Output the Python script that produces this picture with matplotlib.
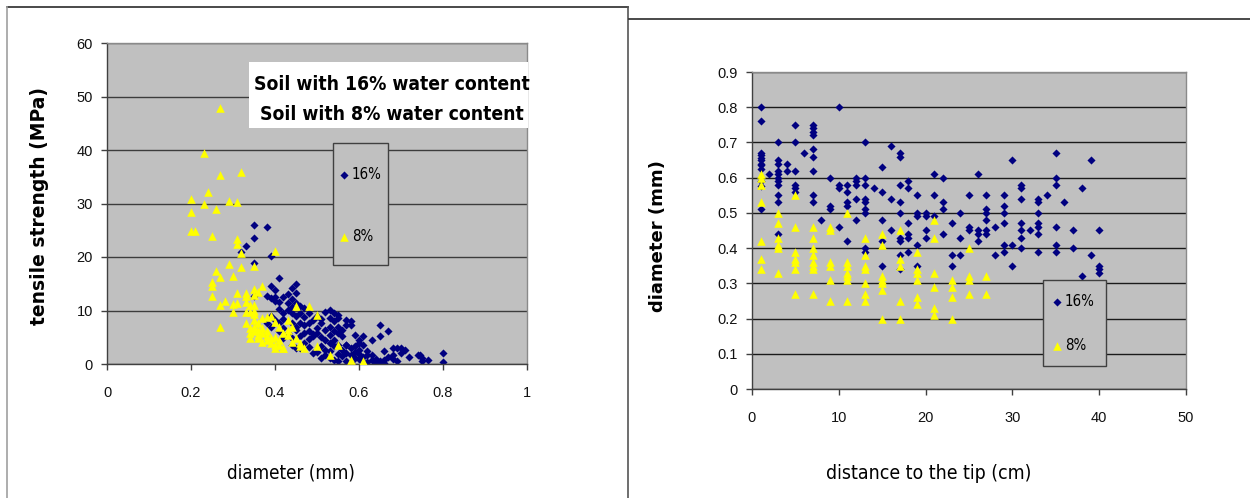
import os
import matplotlib
matplotlib.use("Agg")
import matplotlib.pyplot as plt
from matplotlib.lines import Line2D
from matplotlib.patches import Rectangle
from matplotlib.font_manager import FontProperties, fontManager, weight_dict

# ---------------- data: left chart (diameter vs tensile strength) ----------------
diam16 = [0.35, 0.38, 0.35, 0.33, 0.32, 0.39, 0.35, 0.41, 0.39, 0.40, 0.45, 0.44, 0.45, 0.38, 0.39, 0.40,
          0.42, 0.43, 0.44, 0.45, 0.35, 0.41, 0.42, 0.43, 0.39, 0.40, 0.44, 0.45, 0.46, 0.47, 0.48, 0.41,
          0.42, 0.44, 0.45, 0.46, 0.47, 0.48, 0.49, 0.50, 0.51, 0.52, 0.53, 0.54, 0.55, 0.53, 0.54, 0.55,
          0.57, 0.58, 0.57, 0.58, 0.55, 0.56, 0.53, 0.54, 0.59, 0.60, 0.65, 0.67, 0.65, 0.63, 0.61, 0.69,
          0.70, 0.70, 0.72, 0.745, 0.75, 0.765, 0.80, 0.80, 0.68, 0.66, 0.67, 0.68, 0.69, 0.63, 0.64, 0.65,
          0.66, 0.59, 0.60, 0.61, 0.62, 0.62, 0.63, 0.57, 0.58, 0.59, 0.60, 0.60, 0.55, 0.56, 0.57, 0.57,
          0.58, 0.59, 0.51, 0.52, 0.53, 0.54, 0.55, 0.50, 0.51, 0.52, 0.46, 0.47, 0.48, 0.49, 0.50, 0.48,
          0.49, 0.46, 0.47, 0.44, 0.43, 0.44, 0.45, 0.42, 0.41, 0.38, 0.52, 0.53, 0.54, 0.55, 0.56, 0.51,
          0.52, 0.53, 0.56, 0.57, 0.58, 0.61, 0.62, 0.64, 0.66, 0.60, 0.61, 0.50, 0.51, 0.47, 0.46, 0.44,
          0.43, 0.40, 0.41, 0.42, 0.39, 0.54, 0.55, 0.53, 0.49, 0.48, 0.45, 0.74, 0.75, 0.71, 0.68]
strength16 = [26.0, 25.7, 23.5, 22.1, 21.0, 20.1, 18.9, 16.1, 14.5, 13.9, 15.0, 14.2, 13.3, 12.8, 12.3, 11.7,
              12.6, 13.0, 12.1, 11.4, 12.8, 10.3, 9.6, 10.1, 9.0, 8.3, 9.5, 8.9, 9.5, 8.8, 9.5, 7.7,
              6.7, 7.7, 7.0, 7.7, 7.2, 7.7, 8.3, 6.7, 7.7, 9.8, 10.1, 9.5, 9.2, 8.6, 8.0, 8.6,
              8.3, 8.0, 7.3, 7.2, 7.0, 6.4, 5.5, 6.1, 5.5, 4.5, 7.3, 6.1, 5.2, 4.5, 5.2, 3.0,
              3.0, 2.1, 1.4, 1.7, 1.1, 0.8, 2.1, 0.4, 1.7, 2.4, 1.4, 0.9, 0.6, 1.7, 1.0, 0.5,
              0.8, 3.3, 2.7, 3.5, 2.5, 1.6, 0.8, 3.6, 3.0, 2.3, 1.9, 0.9, 3.6, 2.7, 3.6, 2.0,
              1.7, 1.1, 1.1, 1.7, 1.1, 0.8, 0.5, 2.3, 3.3, 2.7, 3.0, 4.0, 4.6, 5.2, 5.8, 6.2,
              5.6, 5.2, 5.8, 3.6, 5.8, 4.9, 6.4, 4.9, 6.1, 7.7, 4.5, 3.9, 3.3, 5.8, 5.2, 5.0,
              6.3, 7.0, 1.5, 0.6, 0.3, 0.4, 0.3, 0.2, 0.2, 3.9, 1.3, 9.0, 8.5, 10.5, 10.9, 10.7,
              11.4, 12.6, 11.5, 8.4, 7.0, 4.4, 1.8, 2.4, 2.0, 3.2, 3.0, 1.6, 0.6, 2.6, 2.9]

diam8 = [0.27, 0.23, 0.27, 0.32, 0.24, 0.20, 0.23, 0.29, 0.31, 0.26, 0.20, 0.20, 0.21, 0.25, 0.31, 0.31,
         0.32, 0.40, 0.29, 0.32, 0.35, 0.26, 0.27, 0.30, 0.25, 0.25, 0.37, 0.35, 0.25, 0.31, 0.33, 0.36,
         0.28, 0.27, 0.30, 0.31, 0.33, 0.34, 0.35, 0.30, 0.33, 0.35, 0.35, 0.27, 0.33, 0.34, 0.34, 0.35,
         0.35, 0.35, 0.36, 0.36, 0.36, 0.37, 0.37, 0.37, 0.38, 0.38, 0.39, 0.39, 0.39, 0.40, 0.40, 0.41,
         0.42, 0.43, 0.43, 0.44, 0.45, 0.46, 0.47, 0.48, 0.50, 0.50, 0.53, 0.55, 0.58, 0.61, 0.41, 0.42,
         0.40, 0.38, 0.36, 0.34, 0.44, 0.43, 0.38, 0.37, 0.41, 0.42, 0.45, 0.46, 0.40, 0.33, 0.35, 0.34]
strength8 = [47.8, 39.4, 35.3, 35.9, 32.2, 30.9, 30.0, 30.4, 30.3, 28.9, 28.4, 24.9, 24.9, 24.0, 23.4, 22.5,
             20.8, 21.2, 18.7, 18.2, 18.4, 17.4, 16.2, 16.5, 15.4, 14.6, 14.6, 14.1, 12.8, 13.3, 13.2, 13.4,
             11.8, 11.1, 11.2, 11.4, 11.5, 11.1, 11.0, 9.8, 9.8, 10.0, 9.4, 7.0, 7.6, 6.7, 5.8, 8.3,
             7.0, 6.1, 7.7, 6.4, 5.5, 6.7, 5.8, 4.2, 6.1, 5.2, 9.0, 4.9, 3.9, 3.6, 3.0, 4.5,
             3.0, 8.3, 6.4, 4.2, 10.8, 3.9, 3.0, 10.8, 9.2, 3.3, 1.6, 3.6, 0.8, 0.5, 6.9, 5.8,
             5.0, 4.5, 4.8, 4.9, 7.0, 5.5, 8.8, 8.6, 3.5, 2.9, 4.8, 3.3, 7.8, 12.8, 12.9, 9.8]

# ---------------- data: right chart (distance to tip vs diameter) ----------------
dist16 = ([1] * 12 + [2] + [3] * 11 + [4] * 2 + [5] * 6 + [6] + [7] * 9 + [8] + [9] * 3 + [10] * 4
          + [11] * 5 + [12] * 5 + [13] * 9 + [14] + [15] * 5 + [16] * 3 + [17] * 9 + [18] * 6 + [19] * 5
          + [20] * 4 + [21] * 3 + [22] * 4 + [23] * 3 + [24] * 3 + [25] * 3 + [26] * 4 + [27] * 6
          + [28] * 2 + [29] * 6 + [30] * 3 + [31] * 7 + [32] + [33] * 7 + [34] + [35] * 6 + [36]
          + [37] * 2 + [38] * 2 + [39] * 2 + [40] * 4)
diamR16 = [0.80, 0.76, 0.67, 0.665, 0.655, 0.65, 0.64, 0.635, 0.625, 0.59, 0.575, 0.51,
           0.61,
           0.70, 0.65, 0.64, 0.62, 0.61, 0.60, 0.59, 0.58, 0.55, 0.53, 0.44,
           0.64, 0.62,
           0.75, 0.70, 0.62, 0.58, 0.57, 0.56,
           0.67,
           0.75, 0.74, 0.73, 0.72, 0.68, 0.66, 0.62, 0.55, 0.53,
           0.48,
           0.60, 0.52, 0.51,
           0.80, 0.58, 0.57, 0.46,
           0.58, 0.56, 0.53, 0.52, 0.42,
           0.60, 0.59, 0.58, 0.54, 0.48,
           0.70, 0.60, 0.58, 0.54, 0.53, 0.51, 0.50, 0.40, 0.39,
           0.57,
           0.63, 0.56, 0.48, 0.42, 0.35,
           0.69, 0.54, 0.45,
           0.67, 0.66, 0.58, 0.53, 0.50, 0.43, 0.42, 0.38, 0.34,
           0.59, 0.57, 0.47, 0.44, 0.43, 0.39,
           0.55, 0.50, 0.49, 0.41, 0.35,
           0.50, 0.49, 0.45, 0.43,
           0.61, 0.55, 0.49,
           0.60, 0.53, 0.51, 0.44,
           0.47, 0.38, 0.35,
           0.50, 0.43, 0.38,
           0.55, 0.46, 0.45,
           0.61, 0.45, 0.44, 0.42,
           0.55, 0.51, 0.50, 0.48, 0.45, 0.44,
           0.46, 0.38,
           0.55, 0.52, 0.50, 0.47, 0.41, 0.39,
           0.65, 0.41, 0.35,
           0.58, 0.57, 0.54, 0.47, 0.45, 0.43, 0.40,
           0.45,
           0.54, 0.53, 0.50, 0.47, 0.46, 0.44, 0.39,
           0.55,
           0.67, 0.60, 0.58, 0.46, 0.41, 0.39,
           0.53,
           0.45, 0.40,
           0.57, 0.32,
           0.65, 0.38,
           0.45, 0.35, 0.34, 0.33]

dist8 = ([1] * 7 + [3] * 6 + [5] * 7 + [7] * 8 + [9] * 6 + [11] * 7 + [13] * 7 + [15] * 7
         + [17] * 5 + [19] * 6 + [21] * 6 + [23] * 4 + [25] * 4 + [27] * 2)
diamR8 = [0.61, 0.60, 0.58, 0.53, 0.42, 0.37, 0.34,
          0.50, 0.47, 0.43, 0.41, 0.40, 0.33,
          0.55, 0.46, 0.39, 0.37, 0.36, 0.34, 0.27,
          0.46, 0.43, 0.40, 0.38, 0.36, 0.35, 0.34, 0.27,
          0.46, 0.45, 0.36, 0.35, 0.31, 0.25,
          0.50, 0.36, 0.35, 0.33, 0.32, 0.31, 0.25,
          0.43, 0.38, 0.35, 0.34, 0.30, 0.27, 0.25,
          0.44, 0.41, 0.32, 0.31, 0.30, 0.28, 0.20,
          0.45, 0.37, 0.35, 0.25, 0.20,
          0.39, 0.34, 0.33, 0.31, 0.26, 0.24,
          0.48, 0.43, 0.33, 0.29, 0.23, 0.21,
          0.31, 0.29, 0.26, 0.20,
          0.40, 0.32, 0.31, 0.27,
          0.32, 0.27]

series_labels = ["16%", "8%"]
left_xticks = [0, 0.2, 0.4, 0.6, 0.8, 1]
left_xticklabels = ["0", "0.2", "0.4", "0.6", "0.8", "1"]
left_yticks = [0, 10, 20, 30, 40, 50, 60]
left_yticklabels = ["0", "10", "20", "30", "40", "50", "60"]
right_xticks = [0, 10, 20, 30, 40, 50]
right_xticklabels = ["0", "10", "20", "30", "40", "50"]
right_yticks = [0, 0.1, 0.2, 0.3, 0.4, 0.5, 0.6, 0.7, 0.8, 0.9]
right_yticklabels = ["0", "0.1", "0.2", "0.3", "0.4", "0.5", "0.6", "0.7", "0.8", "0.9"]
annotation_lines = ["Soil with 16% water content", "Soil with 8% water content"]

# ---------------- styling ----------------
W, H = 1250, 498
NAVY = "#000080"
YELLOW = "#FFFF00"
PLOTBG = "#C0C0C0"


def _weight(f):
    w = f.weight
    if isinstance(w, str):
        w = weight_dict.get(w, 400)
    return w


def _stretch(f):
    s = f.stretch
    if isinstance(s, str):
        s = {"ultra-condensed": 100, "extra-condensed": 200, "condensed": 300,
             "semi-condensed": 400, "normal": 500}.get(s, 500)
    return s


def narrow_font(bold):
    """Find an installed condensed sans-serif face (falls back to Liberation Sans)."""
    prefs = ["liberation sans narrow", "arial narrow", "dejavu sans", "roboto condensed",
             "open sans condensed", "noto sans"]
    cands = []
    for f in fontManager.ttflist:
        name = f.name.lower()
        fn = os.path.basename(f.fname).lower()
        if "mono" in name or "mono" in fn or ("serif" in name and "sans" not in name):
            continue
        if f.style != "normal" or "oblique" in fn or "italic" in fn:
            continue
        narrow = ("narrow" in name or "condensed" in name or "narrow" in fn or "condensed" in fn
                  or _stretch(f) < 500)
        if not narrow:
            continue
        if (_weight(f) >= 600) != bold:
            continue
        rank = len(prefs)
        for i, p in enumerate(prefs):
            if name.startswith(p):
                rank = i
                break
        cands.append((rank, f.fname))
    if cands:
        cands.sort()
        return lambda size: FontProperties(fname=cands[0][1], size=size)
    return lambda size: FontProperties(family="Liberation Sans",
                                       weight="bold" if bold else "normal", size=size)


narrow_reg = narrow_font(False)
narrow_bold = narrow_font(True)

fig = plt.figure(figsize=(W / 100, H / 100), dpi=100)
fig.patch.set_facecolor("white")
renderer = fig.canvas.get_renderer()


def fx(x):
    return x / W


def fy(y):
    return 1 - y / H


def fit_size(maker, text, target_px, start=14.0):
    size = start
    for _ in range(4):
        t = fig.text(0, 0, text, fontproperties=maker(size))
        w = t.get_window_extent(renderer).width
        t.remove()
        size *= target_px / w
    return size


def make_axes(x0, x1, ytop, ybot):
    return fig.add_axes([fx(x0), fy(ybot), (x1 - x0) / W, (ybot - ytop) / H])


def style_axes(ax, gridcolor):
    ax.set_facecolor(PLOTBG)
    ax.set_axisbelow(True)
    ax.yaxis.grid(True, color=gridcolor, linewidth=1.0)
    ax.xaxis.grid(False)
    for side in ("left", "bottom"):
        ax.spines[side].set_color("#404040")
        ax.spines[side].set_linewidth(1.0)
    for side in ("top", "right"):
        ax.spines[side].set_color("#8a8a8a")
        ax.spines[side].set_linewidth(1.0)
    ax.tick_params(axis="x", direction="out", length=4, width=1, color="#404040", pad=12,
                   labelsize=10.5, labelcolor="#111111")
    ax.tick_params(axis="y", direction="out", length=4, width=1, color="#404040", pad=6,
                   labelsize=10.5, labelcolor="#111111")
    for lab in ax.get_xticklabels() + ax.get_yticklabels():
        lab.set_fontfamily(["Liberation Sans", "DejaVu Sans"])


def add_legend(ax, box, centers, marker_x, size):
    # box: (x0, y0, x1, y1) in figure pixels; centers: y pixel of the two entries
    x0, y0, x1, y1 = box
    ax.add_patch(Rectangle((fx(x0), fy(y1)), (x1 - x0) / W, (y1 - y0) / H, transform=fig.transFigure,
                           facecolor=PLOTBG, edgecolor="#404040", linewidth=1.0, zorder=4, clip_on=False))
    fpx = size * 100 / 72
    spacing = (centers[1] - centers[0] - 0.94 * fpx) / fpx
    hl = 0.8
    top = centers[0] - 0.47 * fpx
    left = marker_x - hl * fpx / 2
    pad = (8 - hl * fpx / 2) / fpx
    leg = ax.legend(loc="upper left", bbox_to_anchor=(fx(left), fy(top)), bbox_transform=fig.transFigure,
                    frameon=False, borderpad=0, borderaxespad=0, handlelength=hl, handletextpad=max(pad, 0),
                    labelspacing=spacing, scatterpoints=1, prop=narrow_reg(size))
    leg.set_zorder(5)
    return leg


legend_size = fit_size(narrow_reg, "16%", 30)

# ----- left chart -----
axL = make_axes(107, 527, 43, 364)
axL.scatter(diam16, strength16, marker="D", s=17, color=NAVY, linewidths=0, zorder=2, label=series_labels[0])
axL.scatter(diam8, strength8, marker="^", s=38, color=YELLOW, linewidths=0, zorder=3, label=series_labels[1])
axL.set_xlim(0, 1)
axL.set_ylim(0, 60)
axL.set_xticks(left_xticks)
axL.set_xticklabels(left_xticklabels)
axL.set_yticks(left_yticks)
axL.set_yticklabels(left_yticklabels)
style_axes(axL, "#3c3c3c")
axL.set_ylabel("tensile strength (MPa)", fontsize=13.5, fontweight="bold", family="DejaVu Sans",
               va="center")
axL.yaxis.set_label_coords((39.5 - 107) / 420, (364 - 205.5) / 321)
axL.set_xlabel("diameter (mm)", fontproperties=narrow_reg(fit_size(narrow_reg, "diameter (mm)", 128)),
               va="center")
axL.xaxis.set_label_coords((291 - 107) / 420, (364 - 473) / 321)

# white annotation box
axL.add_patch(Rectangle((fx(249), fy(128)), (528 - 249) / W, (128 - 62) / H, transform=fig.transFigure,
                        facecolor="white", edgecolor="none", zorder=5, clip_on=False))
ann_size = fit_size(narrow_bold, annotation_lines[0], 277)
axL.text(fx(391.5), fy(89.5), annotation_lines[0], transform=fig.transFigure, ha="center", va="baseline",
         fontproperties=narrow_bold(ann_size), zorder=6)
axL.text(fx(392), fy(120), annotation_lines[1], transform=fig.transFigure, ha="center", va="baseline",
         fontproperties=narrow_bold(ann_size), zorder=6)

add_legend(axL, (333, 143, 388, 265), (174, 235), 344, legend_size)

# ----- right chart -----
axR = make_axes(752, 1186, 72, 389)
axR.scatter(dist16, diamR16, marker="D", s=17, color=NAVY, linewidths=0, zorder=2, label=series_labels[0])
axR.scatter(dist8, diamR8, marker="^", s=38, color=YELLOW, linewidths=0, zorder=3, label=series_labels[1])
axR.set_xlim(0, 50)
axR.set_ylim(0, 0.9)
axR.set_xticks(right_xticks)
axR.set_xticklabels(right_xticklabels)
axR.set_yticks(right_yticks)
axR.set_yticklabels(right_yticklabels)
style_axes(axR, "#1a1a1a")
axR.set_ylabel("diameter (mm)", fontsize=13, fontweight="bold", family="DejaVu Sans", va="center")
axR.yaxis.set_label_coords((658 - 752) / 434, (389 - 236.5) / 317)
axR.set_xlabel("distance to the tip (cm)",
               fontproperties=narrow_reg(fit_size(narrow_reg, "distance to the tip (cm)", 205)), va="center")
axR.xaxis.set_label_coords((928.5 - 752) / 434, (389 - 473) / 317)

add_legend(axR, (1043, 280, 1106, 366), (301, 344), 1057, legend_size)

# ----- panel frames -----
frame = dict(transform=fig.transFigure, linewidth=1.2)
fig.add_artist(Line2D([fx(7), fx(628)], [fy(7), fy(7)], color="#2a2a2a", **frame))
fig.add_artist(Line2D([fx(7), fx(7)], [fy(7), 0], color="#a0a0a0", **frame))
fig.add_artist(Line2D([fx(628), fx(628)], [fy(7), 0], color="#555555", **frame))
fig.add_artist(Line2D([fx(629), 1], [fy(19), fy(19)], color="#2a2a2a", **frame))

fig.savefig("out.png", dpi=100, facecolor="white")
